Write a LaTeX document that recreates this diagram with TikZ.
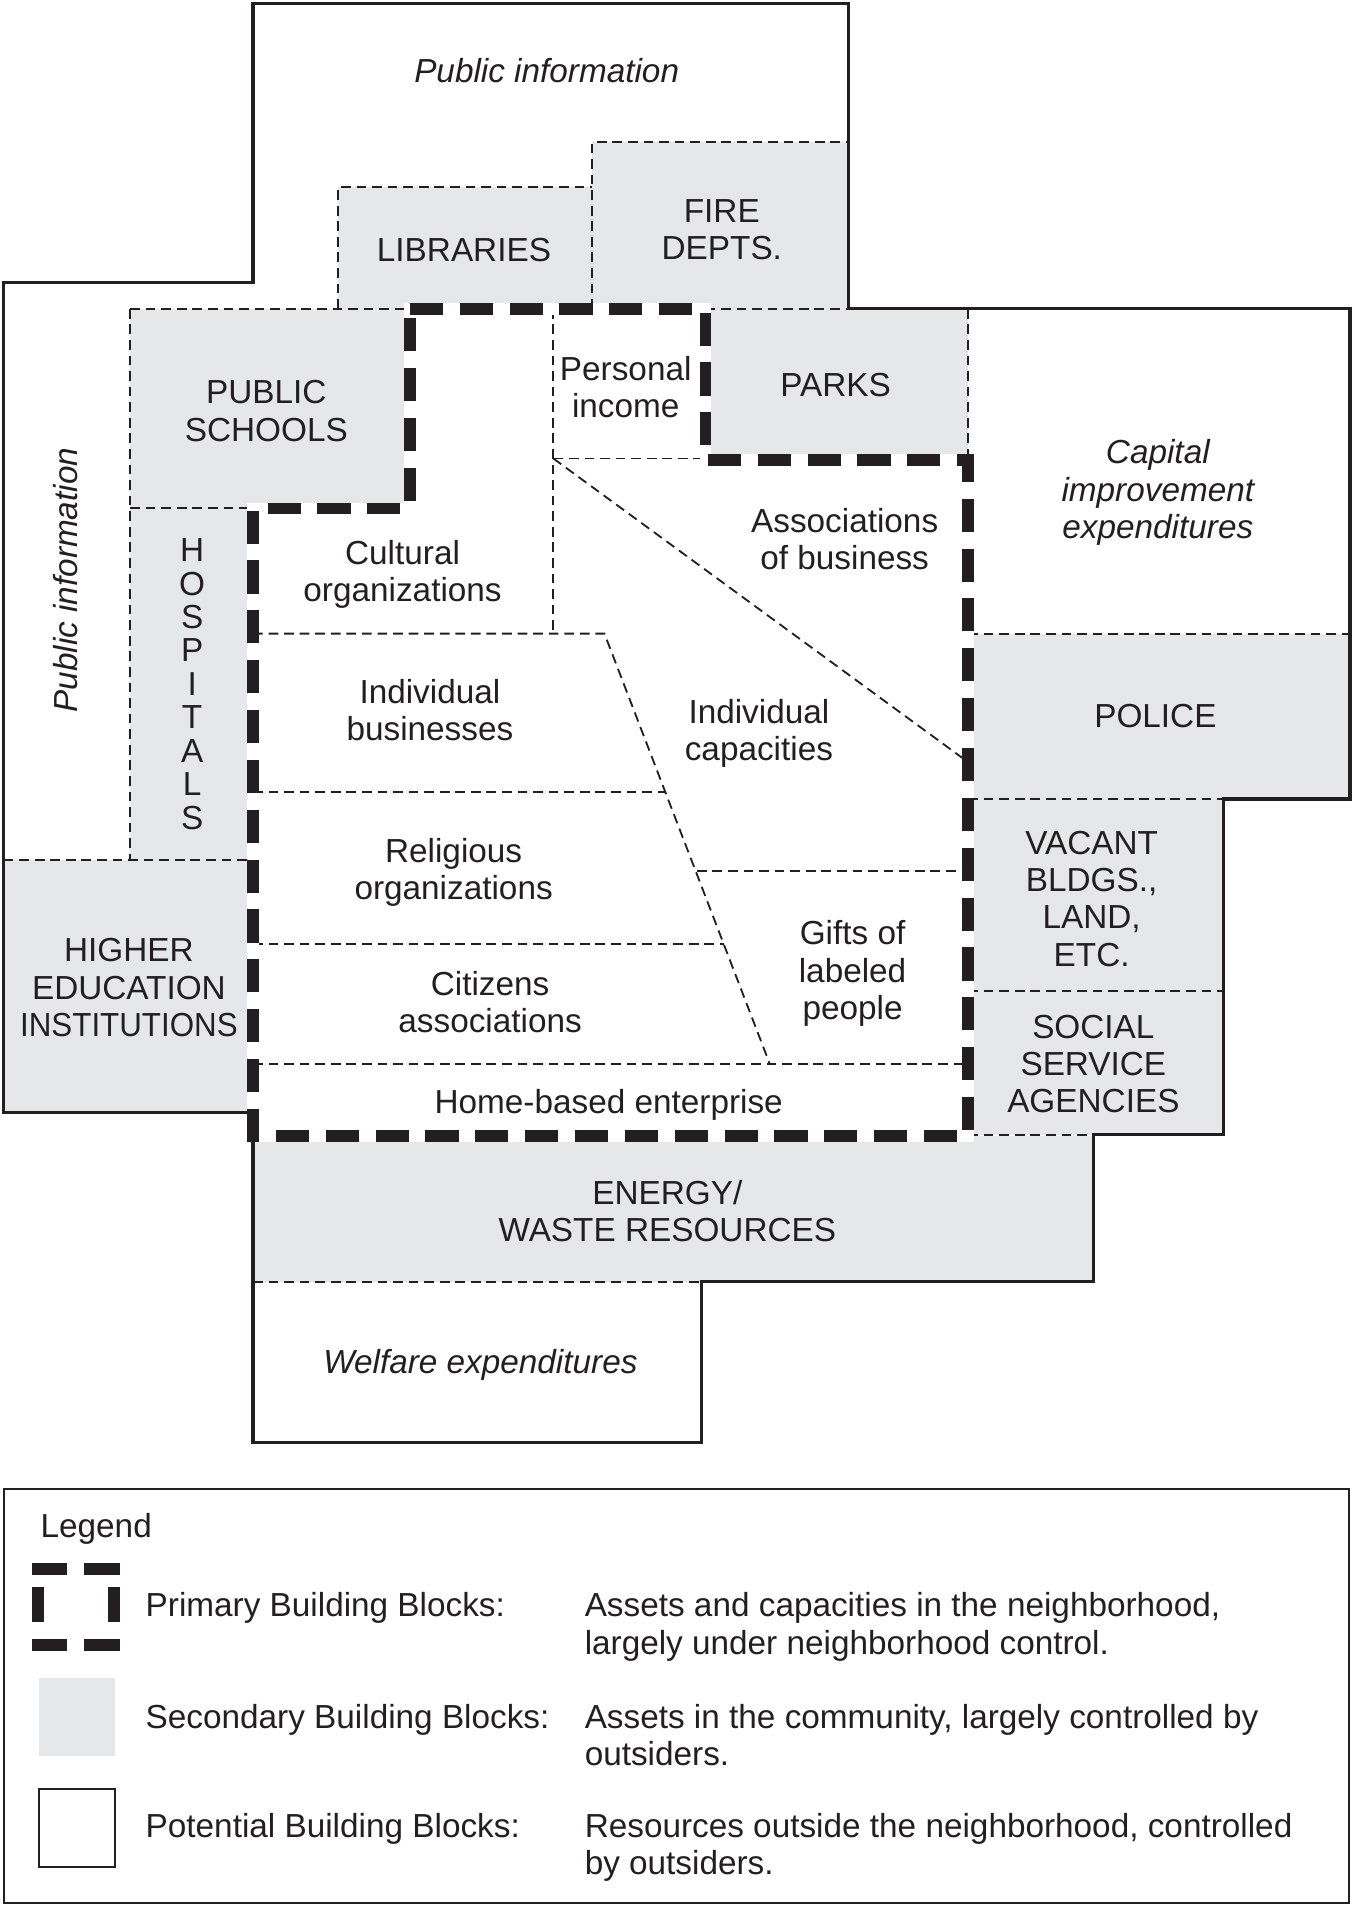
\documentclass[tikz,border=0pt]{standalone}
\usepackage{fontspec}
\setmainfont{Liberation Sans}
\definecolor{ink}{RGB}{35,31,32}
\definecolor{secgray}{RGB}{230,231,232}
\begin{document}
\begin{tikzpicture}[x=0.5pt,y=-0.5pt,
  lbl/.style={font=\fontsize{13.7}{15.3}\selectfont, text=ink, align=center, inner sep=0pt},
  ilbl/.style={font=\fontsize{13.7}{15.3}\selectfont\itshape, text=ink, align=center, inner sep=0pt},
  legtxt/.style={font=\fontsize{13.7}{15.3}\selectfont, text=ink, inner sep=0pt, anchor=base west},
  secfill/.style={fill=secgray, draw=none},
  thindash/.style={draw=ink, line width=0.75pt, dash pattern=on 4pt off 2.4pt},
  outerline/.style={draw=ink, line width=1.3pt, line join=miter},
  primunder/.style={draw=white, line width=4.8pt},
  primline/.style={draw=ink, line width=4.8pt, dash pattern=on 13.6pt off 6.9pt},
  primseg/.style={draw=ink, line width=4.8pt},
]
\useasboundingbox (0,0) rectangle (1114,1568);

% ---------- secondary (gray) blocks ----------
\fill[secgray] (278,154) rectangle (487,254);   % libraries
\fill[secgray] (487,117) rectangle (698,254);   % fire depts
\fill[secgray] (107,254) rectangle (337,418);   % public schools
\fill[secgray] (107,418) rectangle (208,707);   % hospitals
\fill[secgray] (3,707) rectangle (208,915);     % higher education
\fill[secgray] (580,254) rectangle (796,378);   % parks
\fill[secgray] (796,521) rectangle (1110,657);  % police
\fill[secgray] (796,657) rectangle (1006,815);  % vacant
\fill[secgray] (796,815) rectangle (1006,933);  % social service
\fill[secgray] (208,934) rectangle (899,1054);  % energy

% ---------- thin dashed boundaries ----------
\draw[thindash] (107,254) -- (337,254);
\draw[thindash] (278,254) -- (278,154) -- (487,154);
\draw[thindash] (487,254) -- (487,117) -- (698,117);
\draw[thindash] (580,254) -- (698,254);
\draw[thindash] (796,254) -- (796,378);
\draw[thindash] (107,254) -- (107,707);
\draw[thindash] (107,418) -- (208,418);
\draw[thindash] (3,707) -- (208,707);
\draw[thindash] (796,521) -- (1110,521);
\draw[thindash] (796,657) -- (1006,657);
\draw[thindash] (796,815) -- (1006,815);
\draw[thindash] (796,933) -- (899,933);
\draw[thindash] (208,1054) -- (577,1054);
% inside primary
\draw[thindash] (455,254) -- (455,521);
\draw[thindash] (455,377) -- (580,377);
\draw[thindash] (455,377) -- (791,623);
\draw[thindash] (208,521) -- (497,521) -- (633,875);
\draw[thindash] (208,651) -- (547,651);
\draw[thindash] (573,716) -- (796,716);
\draw[thindash] (208,776) -- (595,776);
\draw[thindash] (208,875) -- (796,875);

% ---------- outer solid boundary (potential blocks) ----------
\draw[outerline] (208,3) -- (698,3) -- (698,254) -- (1110,254) -- (1110,657)
  -- (1006,657) -- (1006,933) -- (899,933) -- (899,1054) -- (577,1054)
  -- (577,1186) -- (208,1186) -- (208,915) -- (3,915) -- (3,232) -- (208,232) -- cycle;

% ---------- primary (thick dashed) boundary ----------
\draw[primunder] (337,254) -- (580,254) -- (580,378) -- (796,378) -- (796,934)
  -- (208,934) -- (208,418) -- (337,418) -- cycle;
\draw[primline] (337,254) -- (580,254) -- (580,378) -- (796,378) -- (796,934)
  -- (208,934) -- (208,418) -- (337,418) -- cycle;

% ---------- labels ----------
\node[ilbl] (pubtop) at (449.5,58) {Public information};
\node[lbl] (lib) at (381.5,205.6) {LIBRARIES};
\node[lbl] (fire) at (593.5,189) {FIRE\\DEPTS.};
\node[lbl] (ps) at (219,338) {PUBLIC\\SCHOOLS};
\node[lbl] (pinc) at (514.5,318.5) {Personal\\income};
\node[lbl] (parks) at (687,316.5) {PARKS};
\node[ilbl] (cap) at (952,405) {Capital\\improvement\\expenditures};
\node[lbl] (assoc) at (694.5,443) {Associations\\of business};
\node[lbl] (cult) at (331,472) {Cultural\\organizations};
\node[lbl] (indb) at (353.5,584) {Individual\\businesses};
\node[lbl] (indc) at (624,603) {Individual\\capacities};
\node[lbl] (police) at (950,588.4) {POLICE};
\node[lbl] (relig) at (373,717.5) {Religious\\organizations};
\node[lbl] (vacant) at (897.6,739) {VACANT\\BLDGS.,\\LAND,\\ETC.};
\node[lbl] (gifts) at (701,800.5) {Gifts of\\labeled\\people};
\node[lbl] (higher) at (106,812) {HIGHER\\EDUCATION\\\scalebox{0.94}[1]{INSTITUTIONS}};
\node[lbl] (citz) at (403,823.7) {Citizens\\associations};
\node[lbl] (social) at (899,874.7) {SOCIAL\\SERVICE\\AGENCIES};
\node[lbl] (home) at (500.5,908.5) {Home-based enterprise};
\node[lbl] (energy) at (548.7,996) {ENERGY/\\WASTE RESOURCES};
\node[ilbl] (welf) at (395,1122) {Welfare expenditures};
\node[ilbl, rotate=90] (publeft) at (54,477) {Public information};
\node[lbl, font=\fontsize{13.7}{13.75}\selectfont] (hosp) at (158,562.5) {H\\O\\S\\P\\I\\T\\A\\L\\S};

% ---------- legend ----------
\draw[draw=ink, line width=0.8pt] (3,1224) rectangle (1109,1565);
\node[legtxt] (legtitle) at (33,1264.5) {Legend};
% primary symbol
\draw[primseg] (26.5,1290) -- (55.5,1290);
\draw[primseg] (69,1290) -- (99,1290);
\draw[primseg] (26.5,1352.5) -- (55.5,1352.5);
\draw[primseg] (69,1352.5) -- (99,1352.5);
\draw[primseg] (31.5,1304.5) -- (31.5,1333.5);
\draw[primseg] (94,1304.5) -- (94,1333.5);
% secondary symbol
\fill[secgray] (32,1380) rectangle (94.5,1444);
% potential symbol
\draw[draw=ink, line width=0.8pt] (32,1471) rectangle (94.5,1535);

\node[legtxt] (l1a) at (119.4,1329) {Primary Building Blocks:};
\node[legtxt] (l1b) at (480.4,1329) {Assets and capacities in the neighborhood,};
\node[legtxt] (l1c) at (480.4,1360) {largely under neighborhood control.};
\node[legtxt] (l2a) at (119.4,1421) {Secondary Building Blocks:};
\node[legtxt] (l2b) at (480.4,1421) {Assets in the community, largely controlled by};
\node[legtxt] (l2c) at (480.4,1451.5) {outsiders.};
\node[legtxt] (l3a) at (119.4,1511) {Potential Building Blocks:};
\node[legtxt] (l3b) at (480.4,1511) {Resources outside the neighborhood, controlled};
\node[legtxt] (l3c) at (480.4,1541.5) {by outsiders.};
\end{tikzpicture}
\end{document}
